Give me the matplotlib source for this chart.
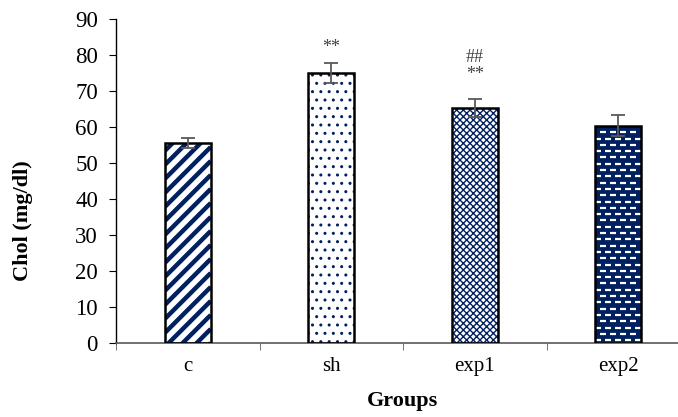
import matplotlib
matplotlib.use("Agg")
import matplotlib.pyplot as plt
import numpy as np

groups = ["c", "sh", "exp1", "exp2"]
chol = [55.5, 75.0, 65.3, 60.3]
sem = [1.4, 2.8, 2.5, 2.9]
# significance marks: (group index, text, height)
marks = [(1, "**", 82.0), (2, "**", 74.5), (2, "##", 79.3)]

NAVY = "#002060"
plt.rcParams["font.family"] = ["Liberation Serif", "DejaVu Serif"]

fig = plt.figure(figsize=(6.78, 4.17), dpi=100)
ax = fig.add_axes([116 / 678, (417 - 343) / 417, 574 / 678, 324 / 417])
ax.set_xlim(-0.5, 3.5)
ax.set_ylim(0, 90)

x = np.arange(len(groups))
w = 0.32

# px -> data units
px_x = 4 / 574
px_y = 90 / 324

# bar styles: face, hatch, hatch colour
styles = [
    ("white", "stripes", NAVY),
    ("white", "..", NAVY),
    ("white", "xxxxx", NAVY),
    (NAVY, "bricks", "white"),
]

plt.rcParams["hatch.linewidth"] = 1.0
for i in range(len(groups)):
    face, hatch, hcol = styles[i]
    ax.bar(x[i], chol[i], w, color=face, linewidth=0, zorder=2)
    outline = ax.bar(x[i], chol[i], w, color="none", edgecolor="black",
                     linewidth=1.8, zorder=4)
    rect = outline[0]
    left = x[i] - w / 2
    if hatch == "stripes":
        # 45 degree stripes, about 14 px apart
        rise = w / px_x * px_y
        for y0 in np.arange(-rise, chol[i] + 14 * px_y, 14 * px_y):
            ln, = ax.plot([left, left + w], [y0, y0 + rise], color=hcol,
                          lw=3.2, solid_capstyle="butt", zorder=3)
            ln.set_clip_path(rect)
    elif hatch == "bricks":
        # white brick dashes on the dark bar
        ys = np.arange(0.8, chol[i], 1.75)
        for k, yy in enumerate(ys):
            off = 0.035 if k % 2 else 0.0
            xs = np.arange(left + 0.02 + off, left + w, 0.07)
            ln, = ax.plot(xs, np.full_like(xs, yy), ls="none", marker="_",
                          ms=4.5, mew=1.6, color=hcol, zorder=3)
            ln.set_clip_path(rect)
    else:
        ax.bar(x[i], chol[i], w, color="none", edgecolor=hcol, hatch=hatch,
               linewidth=0, zorder=3)

ax.errorbar(x, chol, yerr=sem, fmt="none", ecolor="#595959", elinewidth=1.3,
            capsize=5, capthick=1.3, zorder=5)

for gi, txt, yy in marks:
    ax.text(x[gi], yy, txt, ha="center", va="center", fontsize=13,
            color="#404040")

ax.set_yticks(range(0, 91, 10))
ax.set_xticks(x)
ax.set_xticklabels(groups, fontsize=15)
ax.set_xticks(np.arange(-0.5, 3.6, 1), minor=True)
ax.tick_params(axis="x", which="major", length=0, pad=10)
ax.tick_params(axis="x", which="minor", length=5, direction="out", color="#595959")
ax.tick_params(axis="y", labelsize=16.5, length=5, pad=8, direction="out", color="black")

for s in ["top", "right"]:
    ax.spines[s].set_visible(False)
ax.spines["bottom"].set_color("#595959")
ax.spines["bottom"].set_linewidth(1.2)
ax.spines["left"].set_linewidth(1.0)

ax.set_ylabel("Chol (mg/dl)", fontsize=16, fontweight="bold")
ax.yaxis.set_label_coords(-0.145, 0.377)
ax.set_xlabel("Groups", fontsize=16, fontweight="bold")
ax.xaxis.set_label_coords(0.5, -0.148)

fig.savefig("out.png", dpi=100)
